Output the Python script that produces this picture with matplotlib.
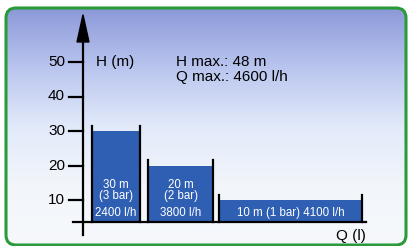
import numpy as np
import matplotlib.pyplot as plt
from matplotlib.patches import FancyBboxPatch, Polygon
from matplotlib.colors import LinearSegmentedColormap

# pump curve steps
heads = [30, 20, 10]
bar_labels = ['30 m\n(3 bar)', '20 m\n(2 bar)', '10 m (1 bar) 4100 l/h']
flow_labels = ['2400 l/h', '3800 l/h', '']
yticks = [10, 20, 30, 40, 50]
info = 'H max.: 48 m\nQ max.: 4600 l/h'

# layout (x in pixel units, y in metres)
lefts = [92, 148, 219]
widths = [48, 65, 143]
base = 3.6
W, H = 409, 246

fig = plt.figure(figsize=(W / 100, H / 100), dpi=100)
plt.rcParams['font.family'] = ['Liberation Sans', 'DejaVu Sans']

# background with gradient and green rounded frame
bg = fig.add_axes([0, 0, 1, 1])
bg.set_xlim(0, W)
bg.set_ylim(H, 0)
bg.axis('off')
cmap = LinearSegmentedColormap.from_list('bg', ['#8b98d8', '#b9c5ee', '#e2eafa', '#f2f6fb', '#f6f8fb'])
grad = np.linspace(0, 1, 256).reshape(-1, 1)
im = bg.imshow(grad, extent=[5, 407, 246, 7], aspect='auto', cmap=cmap)
frame = FancyBboxPatch((6, 8), 400, 237, boxstyle='round,pad=0,rounding_size=10',
                       fc='none', ec='#2a9a3a', lw=2.2)
bg.add_patch(frame)
im.set_clip_path(frame)

# chart axes: x in pixels, y in metres (0 m at pixel 234.5, 3.45 px per m)
ax = fig.add_axes([0, 0, 1, 1])
ax.patch.set_alpha(0)
ax.axis('off')
ax.set_xlim(0, W)
ax.set_ylim((234.5 - H) / 3.45, 234.5 / 3.45)

ax.bar(lefts, [h - base for h in heads], width=widths, bottom=base, align='edge',
       color='#2f5fb3', zorder=2)
for l, w, h in zip(lefts, widths, heads):
    ax.plot([l, l], [base, h + 1.5], color='black', lw=1.6, zorder=3)
    ax.plot([l + w, l + w], [base, h + 1.5], color='black', lw=1.6, zorder=3)

for l, w, t, f in zip(lefts, widths, bar_labels, flow_labels):
    yc = 12.8 if f else 6.2
    ax.text(l + w / 2, yc, t, color='white', fontsize=8.3, ha='center', va='center',
            linespacing=0.95, zorder=4)
    if f:
        ax.text(l + w / 2, 6.2, f, color='white', fontsize=8.3, ha='center', va='center', zorder=4)

# axes lines
ax.plot([73, 366], [base, base], color='black', lw=1.6)
ax.plot([83, 83], [-0.2, 56], color='black', lw=1.6)
ax.add_patch(Polygon([[77, 55.8], [89, 55.8], [83, 63.7]], closed=True, color='black'))
for t in yticks:
    ax.plot([69, 83], [t, t], color='black', lw=1.6)
    ax.text(65, t, str(t), ha='right', va='center', fontsize=11)

ax.text(96, 50, 'H (m)', ha='left', va='center', fontsize=11)
ax.text(176, 47.7, info, ha='left', va='center', fontsize=11, linespacing=1.1)
ax.text(366, -0.4, 'Q (l)', ha='right', va='center', fontsize=11)

fig.savefig('out.png', dpi=100)
